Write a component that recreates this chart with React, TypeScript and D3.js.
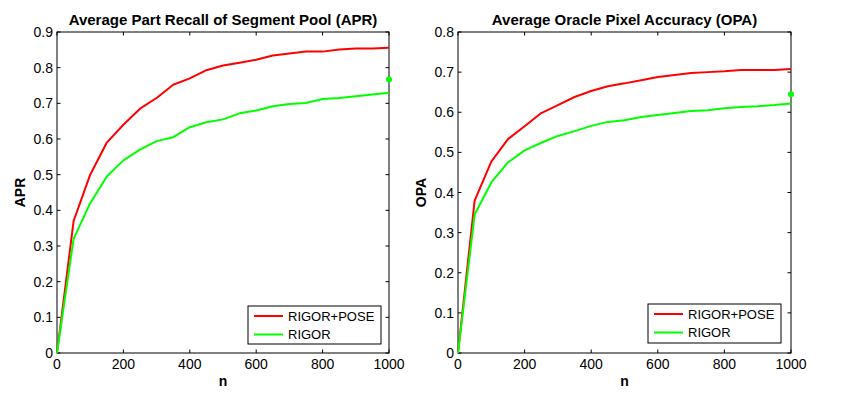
import React, { useRef, useEffect } from "react";
import * as d3 from "d3";

// n values (number of segments)
const nValues = [0, 50, 100, 150, 200, 250, 300, 350, 400, 450, 500, 550, 600, 650, 700, 750, 800, 850, 900, 950, 1000];

const aprPose = [0, 0.37, 0.5, 0.59, 0.64, 0.685, 0.715, 0.752, 0.77, 0.793, 0.806, 0.814, 0.822, 0.834, 0.84, 0.845, 0.845, 0.851, 0.854, 0.854, 0.856];
const aprRigor = [0, 0.32, 0.42, 0.495, 0.54, 0.57, 0.594, 0.605, 0.633, 0.647, 0.655, 0.672, 0.68, 0.692, 0.698, 0.701, 0.712, 0.715, 0.72, 0.725, 0.73];
const aprDot = 0.767;

const opaPose = [0, 0.38, 0.477, 0.533, 0.565, 0.598, 0.618, 0.638, 0.653, 0.665, 0.672, 0.68, 0.688, 0.693, 0.698, 0.7, 0.702, 0.705, 0.705, 0.705, 0.708];
const opaRigor = [0, 0.345, 0.425, 0.475, 0.505, 0.524, 0.541, 0.553, 0.566, 0.576, 0.58, 0.588, 0.593, 0.598, 0.603, 0.605, 0.61, 0.613, 0.615, 0.618, 0.622];
const opaDot = 0.645;

const xTicks = [0, 200, 400, 600, 800, 1000];
const aprTicks = [0, 0.1, 0.2, 0.3, 0.4, 0.5, 0.6, 0.7, 0.8, 0.9];
const opaTicks = [0, 0.1, 0.2, 0.3, 0.4, 0.5, 0.6, 0.7, 0.8];

const legendNames = ["RIGOR+POSE", "RIGOR"];
const colors = ["#ff0000", "#00ff00"];

const panels = [
  { title: "Average Part Recall of Segment Pool (APR)", ylabel: "APR", left: 57, right: 389, ymax: 0.9, yTicks: aprTicks, series: [aprPose, aprRigor], dot: aprDot, legend: { x: 248, y: 306, w: 133, h: 38 } },
  { title: "Average Oracle Pixel Accuracy (OPA)", ylabel: "OPA", left: 458, right: 791, ymax: 0.8, yTicks: opaTicks, series: [opaPose, opaRigor], dot: opaDot, legend: { x: 648, y: 304, w: 133, h: 39 } },
];

const App = () => {
  const ref = useRef<SVGSVGElement>(null);

  useEffect(() => {
    const width = 847;
    const height = 399;
    const top = 32;
    const bottom = 353;
    const tickLen = 3.5;
    const font = "'Liberation Sans', Arial, Helvetica, sans-serif";

    const svg = d3.select(ref.current);
    svg.selectAll("*").remove();
    svg.attr("width", width).attr("height", height).style("font-family", font);

    svg.append("rect").attr("width", width).attr("height", height).attr("fill", "white");

    panels.forEach((p) => {
      const x = d3.scaleLinear().domain([0, 1000]).range([p.left, p.right]);
      const y = d3.scaleLinear().domain([0, p.ymax]).range([bottom, top]);
      const g = svg.append("g");

      // box
      g.append("rect")
        .attr("x", p.left).attr("y", top)
        .attr("width", p.right - p.left).attr("height", bottom - top)
        .attr("fill", "none").attr("stroke", "#000").attr("stroke-width", 1);

      // x ticks (inward, top and bottom)
      xTicks.forEach((t) => {
        const xp = x(t);
        g.append("line").attr("x1", xp).attr("x2", xp).attr("y1", bottom).attr("y2", bottom - tickLen).attr("stroke", "#000");
        g.append("line").attr("x1", xp).attr("x2", xp).attr("y1", top).attr("y2", top + tickLen).attr("stroke", "#000");
        g.append("text").attr("x", xp).attr("y", bottom + 16)
          .attr("text-anchor", "middle").attr("font-size", 14).text(t);
      });

      // y ticks (inward, left and right)
      p.yTicks.forEach((t) => {
        const yp = y(t);
        g.append("line").attr("x1", p.left).attr("x2", p.left + tickLen).attr("y1", yp).attr("y2", yp).attr("stroke", "#000");
        g.append("line").attr("x1", p.right).attr("x2", p.right - tickLen).attr("y1", yp).attr("y2", yp).attr("stroke", "#000");
        g.append("text").attr("x", p.left - 4).attr("y", yp + 5)
          .attr("text-anchor", "end").attr("font-size", 14).text(String(t));
      });

      // series lines
      const line = d3.line<number>().x((_, i) => x(nValues[i])).y((d) => y(d));
      p.series.forEach((s, i) => {
        g.append("path").datum(s)
          .attr("fill", "none").attr("stroke", colors[i]).attr("stroke-width", 2)
          .attr("stroke-linejoin", "round").attr("d", line);
      });

      // single point at n=1000
      g.append("circle").attr("cx", x(1000)).attr("cy", y(p.dot)).attr("r", 3).attr("fill", colors[1]);

      // title and labels
      g.append("text").attr("x", (p.left + p.right) / 2).attr("y", 25)
        .attr("text-anchor", "middle").attr("font-size", 15).attr("font-weight", "bold").text(p.title);
      g.append("text").attr("x", (p.left + p.right) / 2).attr("y", 386)
        .attr("text-anchor", "middle").attr("font-size", 14).attr("font-weight", "bold").text("n");
      g.append("text")
        .attr("transform", `translate(${p.left - 32},${(top + bottom) / 2}) rotate(-90)`)
        .attr("text-anchor", "middle").attr("font-size", 14).attr("font-weight", "bold").text(p.ylabel);

      // legend
      const lg = g.append("g").attr("transform", `translate(${p.legend.x},${p.legend.y})`);
      lg.append("rect").attr("width", p.legend.w).attr("height", p.legend.h)
        .attr("fill", "white").attr("stroke", "#000").attr("stroke-width", 1);
      legendNames.forEach((name, i) => {
        const ly = 10 + i * 18.5;
        lg.append("line").attr("x1", 6).attr("x2", 35).attr("y1", ly).attr("y2", ly)
          .attr("stroke", colors[i]).attr("stroke-width", 2);
        lg.append("text").attr("x", 40).attr("y", ly + 4.5).attr("font-size", 13).text(name);
      });
    });
  }, []);

  return <svg ref={ref} style={{ display: "block", position: "absolute", left: 0, top: 0 }} />;
};

export default App;
